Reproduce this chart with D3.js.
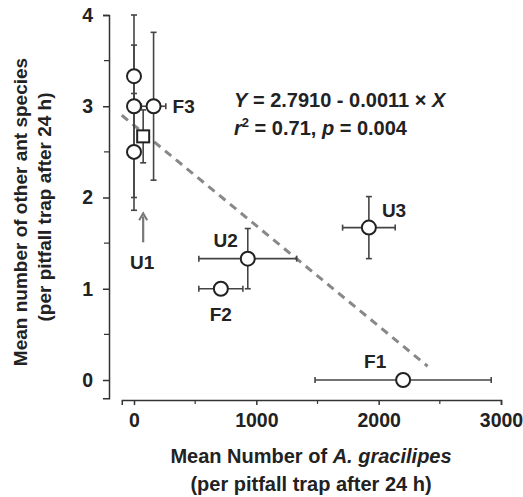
<!DOCTYPE html>
<html>
<head>
<meta charset="utf-8">
<script src="https://cdn.jsdelivr.net/npm/d3@7"></script>
<style>
	body { margin: 0; background: #fff; }
	svg text { font-family: "Liberation Sans", Arial, sans-serif; font-weight: bold; fill: #222; }
</style>
</head>
<body>
<svg id="chart" width="523" height="497"></svg>
<script>
// site means with error bars (x = A. gracilipes, y = other ant species)
const sites = ['F1', 'F2', 'F3', 'U1', 'U2', 'U3', '', '', ''];
const meanX = [2200, 710, 160, 75, 930, 1920, 0, 0, 0];
const meanY = [0, 1.0, 3.0, 2.67, 1.33, 1.67, 3.33, 3.0, 2.5];
const errX = [720, 180, 100, 0, 400, 215, 0, 0, 0];
const errY = [0, 0, 0.81, 0.29, 0.33, 0.34, 0.34, 1.0, 0.64];
const shapes = ['circle', 'circle', 'circle', 'square', 'circle', 'circle', 'circle', 'circle', 'circle'];

const xTicks = [0, 1000, 2000, 3000];
const xMinor = [500, 1500, 2500];
const yTicks = [0, 1, 2, 3, 4];
const yMinor = [0.5, 1.5, 2.5, 3.5];

const fitA = 2.7910;
const fitB = -0.0011;
const fitRange = [-100, 2400];

const data = sites.map((s, i) => ({
	site: s, x: meanX[i], y: meanY[i], ex: errX[i], ey: errY[i], shape: shapes[i]
}));

const svg = d3.select('#chart');

const x = d3.scaleLinear().domain([0, 3000]).range([134, 501]);
const y = d3.scaleLinear().domain([0, 4]).range([380, 15]);

// axes (offset from each other, like the original)
const xAxis = svg.append('g')
	.attr('transform', 'translate(0,400)')
	.call(d3.axisBottom(x.copy().domain([-100, 3000]).range([x(-100), x(3000)]))
		.tickValues(xTicks).tickSize(5).tickSizeOuter(5).tickPadding(8)
		.tickFormat(d3.format('d')));

const yAxis = svg.append('g')
	.attr('transform', 'translate(109,0)')
	.call(d3.axisLeft(y.copy().domain([-0.2, 4]).range([y(-0.2), y(4)]))
		.tickValues(yTicks).tickSize(6).tickSizeOuter(6).tickPadding(10)
		.tickFormat(d3.format('d')));

[xAxis, yAxis].forEach(g => {
	g.selectAll('path, line').attr('stroke', '#333').attr('stroke-width', 1.5);
	g.selectAll('text').style('font-size', '19.5px').attr('fill', '#222');
});

svg.append('g').selectAll('line')
	.data(xMinor)
	.join('line')
	.attr('x1', d => x(d)).attr('x2', d => x(d))
	.attr('y1', 400).attr('y2', 404)
	.attr('stroke', '#333').attr('stroke-width', 1.2);

svg.append('g').selectAll('line')
	.data(yMinor)
	.join('line')
	.attr('x1', 104).attr('x2', 109)
	.attr('y1', d => y(d)).attr('y2', d => y(d))
	.attr('stroke', '#333').attr('stroke-width', 1.2);

// regression line
svg.append('line')
	.attr('x1', x(fitRange[0])).attr('y1', y(fitA + fitB * fitRange[0]))
	.attr('x2', x(fitRange[1])).attr('y2', y(fitA + fitB * fitRange[1]))
	.attr('stroke', '#888')
	.attr('stroke-width', 3)
	.attr('stroke-dasharray', '8,6');

// error bars
const bars = svg.append('g').attr('stroke', '#444').attr('stroke-width', 1.6);
const cap = 3;
data.forEach(d => {
	if (d.ey > 0) {
		bars.append('line')
			.attr('x1', x(d.x)).attr('x2', x(d.x))
			.attr('y1', y(d.y - d.ey)).attr('y2', y(d.y + d.ey));
		[d.y - d.ey, d.y + d.ey].forEach(v => bars.append('line')
			.attr('x1', x(d.x) - cap).attr('x2', x(d.x) + cap)
			.attr('y1', y(v)).attr('y2', y(v)));
	}
	if (d.ex > 0) {
		bars.append('line')
			.attr('x1', x(d.x - d.ex)).attr('x2', x(d.x + d.ex))
			.attr('y1', y(d.y)).attr('y2', y(d.y));
		[d.x - d.ex, d.x + d.ex].forEach(v => bars.append('line')
			.attr('x1', x(v)).attr('x2', x(v))
			.attr('y1', y(d.y) - cap).attr('y2', y(d.y) + cap));
	}
});

// markers
const marks = svg.append('g');
marks.selectAll('circle')
	.data(data.filter(d => d.shape === 'circle'))
	.join('circle')
	.attr('cx', d => x(d.x))
	.attr('cy', d => y(d.y))
	.attr('r', 7)
	.attr('fill', '#fff')
	.attr('stroke', '#222')
	.attr('stroke-width', 2);

marks.selectAll('rect')
	.data(data.filter(d => d.shape === 'square'))
	.join('rect')
	.attr('x', d => x(d.x) - 6)
	.attr('y', d => y(d.y) - 6)
	.attr('width', 12)
	.attr('height', 12)
	.attr('fill', '#fff')
	.attr('stroke', '#222')
	.attr('stroke-width', 2);

// site labels, offset from their points
const labelOffset = {
	F1: [-28, -12, 'middle'],
	F2: [0, 32, 'middle'],
	F3: [19, 7, 'start'],
	U1: [-1, 133, 'middle'],
	U2: [-22, -12, 'middle'],
	U3: [13, -11, 'start']
};

svg.append('g').selectAll('text')
	.data(data.filter(d => labelOffset[d.site]))
	.join('text')
	.attr('x', d => x(d.x) + labelOffset[d.site][0])
	.attr('y', d => y(d.y) + labelOffset[d.site][1])
	.attr('text-anchor', d => labelOffset[d.site][2])
	.style('font-size', '19px')
	.text(d => d.site);

// arrow pointing up to U1
const u1 = data.find(d => d.site === 'U1');
svg.append('line')
	.attr('x1', x(u1.x)).attr('x2', x(u1.x))
	.attr('y1', y(u1.y) + 106).attr('y2', y(u1.y) + 80)
	.attr('stroke', '#777').attr('stroke-width', 2.2);
svg.append('path')
	.attr('d', `M${x(u1.x) - 4},${y(u1.y) + 84} L${x(u1.x)},${y(u1.y) + 77} L${x(u1.x) + 4},${y(u1.y) + 84}`)
	.attr('fill', 'none')
	.attr('stroke', '#777').attr('stroke-width', 2);

// regression equation
const eq = svg.append('g').style('font-size', '20px');
const t1 = eq.append('text').attr('x', 234).attr('y', 107);
t1.append('tspan').style('font-style', 'italic').text('Y');
t1.append('tspan').text(` = ${fitA.toFixed(4)} - ${Math.abs(fitB).toFixed(4)} × `);
t1.append('tspan').style('font-style', 'italic').text('X');

const t2 = eq.append('text').attr('x', 234).attr('y', 135);
t2.append('tspan').style('font-style', 'italic').text('r');
t2.append('tspan').attr('dy', -8).style('font-size', '13px').text('2');
t2.append('tspan').attr('dy', 8).text(' = 0.71, ');
t2.append('tspan').style('font-style', 'italic').text('p');
t2.append('tspan').text(' = 0.004');

// axis titles
const xt = svg.append('g').style('font-size', '20px').attr('text-anchor', 'middle');
const xl1 = xt.append('text').attr('x', 311).attr('y', 463);
xl1.append('tspan').text('Mean Number of ');
xl1.append('tspan').style('font-style', 'italic').text('A. gracilipes');
xt.append('text').attr('x', 311).attr('y', 491).text('(per pitfall trap after 24 h)');

const yt = svg.append('g').style('font-size', '19px').attr('text-anchor', 'middle');
yt.append('text')
	.attr('transform', 'translate(27,212) rotate(-90)')
	.text('Mean number of other ant species');
yt.append('text')
	.attr('transform', 'translate(51,207) rotate(-90)')
	.text('(per pitfall trap after 24 h)');
</script>
</body>
</html>
